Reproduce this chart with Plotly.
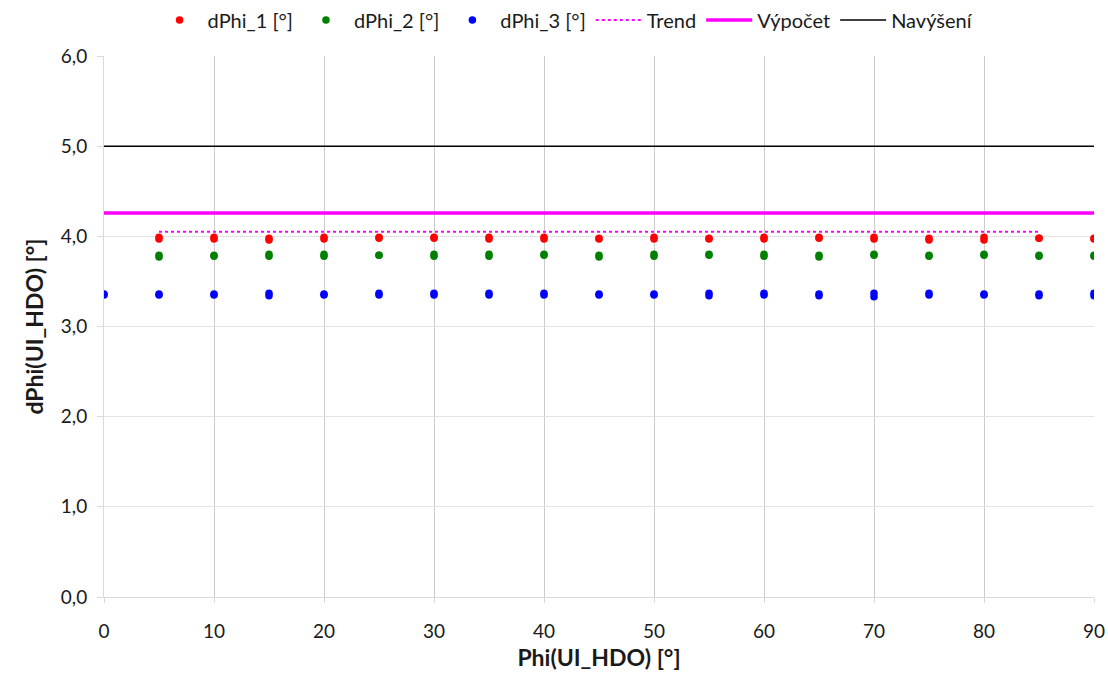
import plotly.graph_objects as go

# ---- data ----
phi = [0, 5, 10, 15, 20, 25, 30, 35, 40, 45, 50, 55, 60, 65, 70, 75, 80, 85, 90]
# two readings per angle (None = no measurement)
dphi1_a = [None, 3.97, 3.97, 3.96, 3.97, 3.98, 3.98, 3.97, 3.97, 3.97, 3.97, 3.97, 3.97, 3.98, 3.97, 3.96, 3.96, 3.98, 3.97]
dphi1_b = [None, 3.99, 3.99, 3.98, 3.99, 3.99, 3.99, 3.99, 3.99, 3.98, 3.99, 3.98, 3.99, 3.99, 3.99, 3.98, 3.99, 3.98, 3.98]
dphi2_a = [None, 3.77, 3.78, 3.78, 3.78, 3.79, 3.78, 3.78, 3.79, 3.77, 3.78, 3.79, 3.78, 3.77, 3.79, 3.78, 3.79, 3.78, 3.78]
dphi2_b = [None, 3.79, 3.79, 3.80, 3.80, 3.79, 3.80, 3.80, 3.80, 3.79, 3.80, 3.80, 3.80, 3.79, 3.80, 3.79, 3.80, 3.79, 3.79]
dphi3_a = [3.35, 3.35, 3.35, 3.34, 3.35, 3.35, 3.35, 3.35, 3.35, 3.35, 3.35, 3.34, 3.35, 3.34, 3.33, 3.35, 3.35, 3.34, 3.34]
dphi3_b = [3.36, 3.36, 3.36, 3.37, 3.36, 3.37, 3.37, 3.37, 3.37, 3.36, 3.36, 3.37, 3.37, 3.36, 3.37, 3.37, 3.36, 3.36, 3.37]

trend_x = [5, 85]
trend_y = [4.05, 4.05]
vypocet_x = [0, 90]
vypocet_y = [4.26, 4.26]
navyseni_x = [0, 90]
navyseni_y = [5.0, 5.0]

x_ticks = [0, 10, 20, 30, 40, 50, 60, 70, 80, 90]
y_ticks = [0, 1, 2, 3, 4, 5, 6]

FONT = "Lato, Open Sans, Liberation Sans, sans-serif"

fig = go.Figure()

def scatter(name, ya, yb, color):
    xs = phi + phi
    ys = ya + yb
    fig.add_trace(go.Scatter(
        x=xs, y=ys, mode="markers", name=name,
        marker=dict(color=color, size=7.5, line=dict(width=0)),
    ))

scatter("dPhi_1 [°]", dphi1_a, dphi1_b, "#FF0000")
scatter("dPhi_2 [°]", dphi2_a, dphi2_b, "#008000")
scatter("dPhi_3 [°]", dphi3_a, dphi3_b, "#0000FF")

fig.add_trace(go.Scatter(x=trend_x, y=trend_y, mode="lines", name="Trend",
                         line=dict(color="#FF00FF", width=2, dash="3px,3px")))
fig.add_trace(go.Scatter(x=vypocet_x, y=vypocet_y, mode="lines", name="Výpočet",
                         line=dict(color="#FF00FF", width=3.5)))
fig.add_trace(go.Scatter(x=navyseni_x, y=navyseni_y, mode="lines", name="Navýšení",
                         line=dict(color="#000000", width=1.5)))

fig.update_layout(
    width=1108, height=678,
    margin=dict(l=104, r=14, t=56, b=81, autoexpand=False),
    plot_bgcolor="white", paper_bgcolor="white",
    separators=", ",
    font=dict(family=FONT, size=19, color="#1a1a1a"),
    showlegend=True,
    legend=dict(orientation="h", x=0.51, xanchor="center", xref="container",
                y=1 - 20 / 678, yanchor="middle", yref="container",
                font=dict(size=20, family=FONT), itemwidth=46, tracegroupgap=0,
                bgcolor="rgba(0,0,0,0)"),
    xaxis=dict(
        range=[0, 90], tickvals=x_ticks, showgrid=True, gridcolor="#cccccc", gridwidth=1,
        zeroline=False, showline=True, linecolor="#d9d9d9", linewidth=1,
        ticks="outside", ticklen=5, tickcolor="#d9d9d9", automargin=False,
        ticklabelstandoff=12,
        title=dict(text="<b>Phi(UI_HDO) [°]</b>", font=dict(size=23, family=FONT), standoff=9),
        tickfont=dict(size=19), fixedrange=True,
    ),
    yaxis=dict(
        range=[0, 6], tickvals=y_ticks, tickformat=".1f", showgrid=True, gridcolor="#e3e3e3",
        gridwidth=1, zeroline=False, showline=True, linecolor="#d9d9d9", linewidth=1,
        ticks="outside", ticklen=6, tickcolor="#d9d9d9", automargin=False,
        ticklabelstandoff=6,
        title=dict(text="<b>dPhi(UI_HDO) [°]</b>", font=dict(size=23, family=FONT), standoff=10),
        tickfont=dict(size=19), fixedrange=True,
    ),
)

fig.write_html(
    "out.html",
    config={"displayModeBar": False},
    post_script="document.body.style.margin='0';document.body.style.overflow='hidden';",
)
